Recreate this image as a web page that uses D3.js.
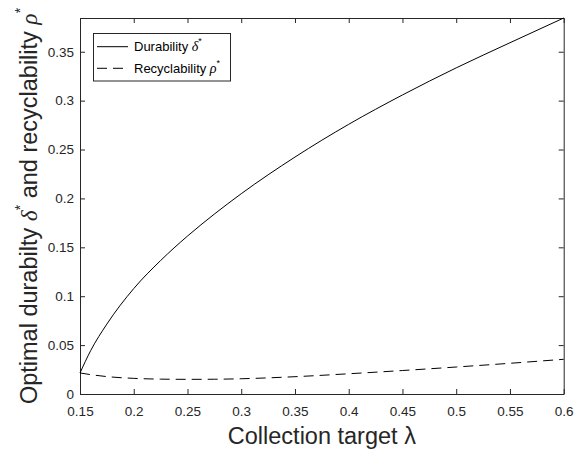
<!DOCTYPE html>
<meta charset="utf-8">
<script src="https://d3js.org/d3.v7.min.js"></script>
<style>
  body { margin: 0; background: #fff; }
  text { font-family: Arial, "Liberation Sans", sans-serif; }
</style>
<div id="my_dataviz"></div>
<script>

  // data
  var lambda = [0.15, 0.16, 0.175, 0.2, 0.225, 0.25, 0.275, 0.3, 0.35, 0.4, 0.45, 0.5, 0.55, 0.6];
  var durability = [0.0215, 0.0445, 0.0715, 0.1078, 0.1365, 0.1615, 0.184, 0.2048, 0.2423, 0.2758, 0.3058, 0.3335, 0.3592, 0.3845];
  var recyclability = [0.0215, 0.0198, 0.0178, 0.0160, 0.0152, 0.0150, 0.0151, 0.0156, 0.0177, 0.0207, 0.0240, 0.0276, 0.0314, 0.0355];
  var xTicks = [0.15, 0.2, 0.25, 0.3, 0.35, 0.4, 0.45, 0.5, 0.55, 0.6];
  var yTicks = [0, 0.05, 0.1, 0.15, 0.2, 0.25, 0.3, 0.35];

  var W = 574, H = 454;
  var plotL = 80, plotR = 563.7, plotT = 18, plotB = 394;
  var axisColor = "#262626";

  var svg = d3.select("#my_dataviz")
    .append("svg")
    .attr("width", W)
    .attr("height", H);

  var x = d3.scaleLinear().domain([0.15, 0.6]).range([plotL, plotR]);
  var y = d3.scaleLinear().domain([0, 0.3845]).range([plotB, plotT]);

  function styleAxis(g) {
    g.selectAll("path").attr("stroke", axisColor).attr("stroke-width", 1);
    g.selectAll("line").attr("stroke", axisColor);
    g.selectAll("text").attr("fill", axisColor).attr("font-size", "13.5px")
      .attr("font-family", "Arial, 'Liberation Sans', sans-serif");
  }

  // bottom / left axes with labels, ticks pointing inwards
  svg.append("g")
    .attr("transform", "translate(0," + plotB + ")")
    .call(d3.axisBottom(x).tickValues(xTicks).tickSizeInner(-5).tickSizeOuter(0).tickPadding(12)
      .tickFormat(function (d) { return String(+d.toFixed(2)); }))
    .call(styleAxis);

  svg.append("g")
    .attr("transform", "translate(" + plotL + ",0)")
    .call(d3.axisLeft(y).tickValues(yTicks).tickSizeInner(-5).tickSizeOuter(0).tickPadding(6)
      .tickFormat(function (d) { return String(+d.toFixed(2)); }))
    .call(styleAxis);

  // top / right box with ticks only
  svg.append("g")
    .attr("transform", "translate(0," + plotT + ")")
    .call(d3.axisTop(x).tickValues(xTicks).tickSizeInner(-5).tickSizeOuter(0).tickFormat(""))
    .call(styleAxis);

  svg.append("g")
    .attr("transform", "translate(" + plotR + ",0)")
    .call(d3.axisRight(y).tickValues(yTicks).tickSizeInner(-5).tickSizeOuter(0).tickFormat(""))
    .call(styleAxis);

  var line = d3.line()
    .x(function (d) { return x(d[0]); })
    .y(function (d) { return y(d[1]); })
    .curve(d3.curveMonotoneX);

  svg.append("path")
    .datum(d3.zip(lambda, durability))
    .attr("fill", "none")
    .attr("stroke", "#000")
    .attr("stroke-width", 1)
    .attr("d", line);

  svg.append("path")
    .datum(d3.zip(lambda, recyclability))
    .attr("fill", "none")
    .attr("stroke", "#000")
    .attr("stroke-width", 1)
    .attr("stroke-dasharray", "10,6")
    .attr("d", line);

  // legend
  var leg = svg.append("g");
  leg.append("rect")
    .attr("x", 93.5).attr("y", 33.5).attr("width", 137).attr("height", 47.5)
    .attr("fill", "#fff").attr("stroke", axisColor).attr("stroke-width", 1);

  var entries = [["Durability ", "δ", "none"], ["Recyclability ", "ρ", "10,6"]];
  entries.forEach(function (e, i) {
    var cy = 46.7 + i * 21.6;
    leg.append("line")
      .attr("x1", 97).attr("x2", 128).attr("y1", cy).attr("y2", cy)
      .attr("stroke", "#000").attr("stroke-width", 1)
      .attr("stroke-dasharray", e[2]);
    var t = leg.append("text")
      .attr("x", 134).attr("y", cy + 4.5)
      .attr("font-size", "13px").attr("fill", "#000");
    t.append("tspan").text(e[0]);
    t.append("tspan").text(e[1]).attr("font-family", "'Liberation Serif', 'DejaVu Serif', serif")
      .attr("font-style", "italic").attr("font-size", "14px");
    t.append("tspan").text("*").attr("font-size", "9px").attr("dy", -7);
  });

  // x label
  var xl = svg.append("text")
    .attr("x", (plotL + plotR) / 2).attr("y", 444)
    .attr("text-anchor", "middle")
    .attr("font-size", "23.5px").attr("fill", axisColor);
  xl.append("tspan").text("Collection target ");
  xl.append("tspan").text("λ");

  // y label
  var yl = svg.append("text")
    .attr("transform", "translate(36.5," + ((plotT + plotB) / 2) + ") rotate(-90)")
    .attr("text-anchor", "middle")
    .attr("font-size", "23.5px").attr("fill", axisColor);
  yl.append("tspan").text("Optimal durabilty ");
  yl.append("tspan").text("δ").attr("font-family", "'Liberation Serif', 'DejaVu Serif', serif").attr("font-style", "italic");
  yl.append("tspan").text("*").attr("font-size", "14px").attr("dy", -12);
  yl.append("tspan").text(" and recyclability ").attr("dy", 12);
  yl.append("tspan").text("ρ").attr("font-family", "'Liberation Serif', 'DejaVu Serif', serif").attr("font-style", "italic");
  yl.append("tspan").text("*").attr("font-size", "14px").attr("dy", -12);

</script>
